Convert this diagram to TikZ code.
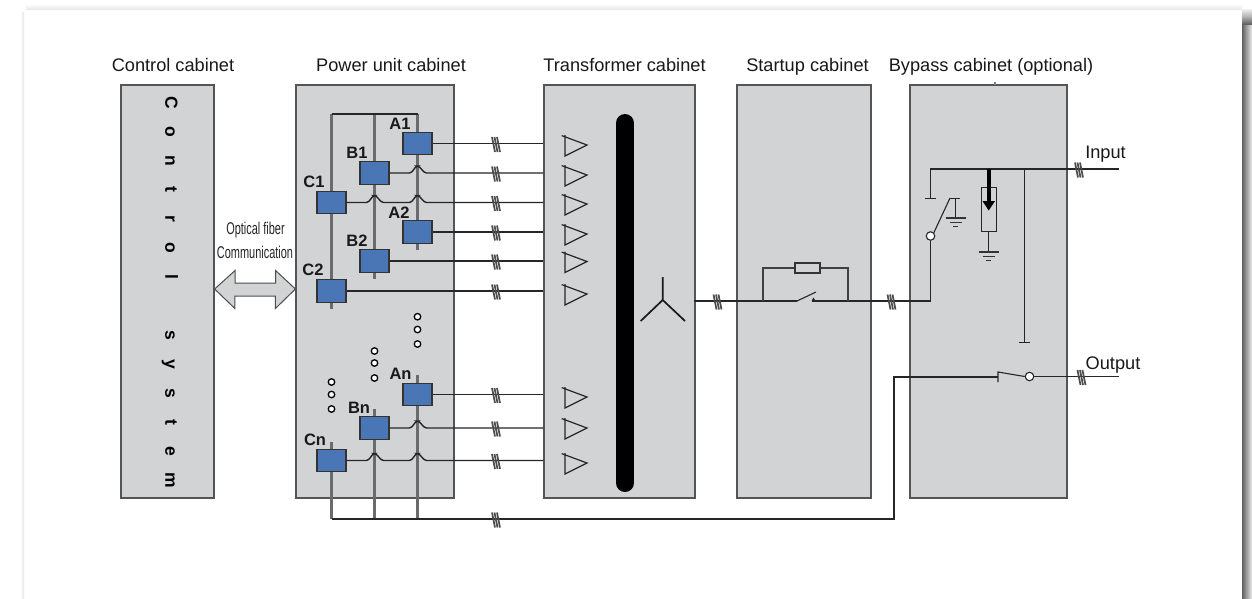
\documentclass[tikz,border=0pt]{standalone}
\usepackage{fontspec}
\setmainfont{Liberation Sans}
\usetikzlibrary{calc,shadings}
\definecolor{cab}{HTML}{D1D3D4}
\definecolor{cabline}{HTML}{555555}
\definecolor{unitblue}{HTML}{4A76B6}
\tikzset{
 cabinet/.style={draw=cabline,fill=cab,line width=1.2pt,inner sep=0pt},
 unitbox/.style={draw=black!80,fill=unitblue,line width=1.2pt,minimum width=29pt,minimum height=22.5pt,inner sep=0pt},
 title/.style={font=\fontsize{18.2}{20}\selectfont,inner sep=0pt,text=black!90,anchor=base},
 unitlabel/.style={font=\fontsize{16.5}{18}\bfseries\selectfont,inner sep=0pt,text=black!90},
 wire/.style={line width=1.4pt,black!85},
 bus/.style={line width=2.2pt,black!58},
 thin wire/.style={line width=1.1pt,black!85},
 dotmark/.style={circle,draw=black,fill=white,line width=1.3pt,minimum size=6.5pt,inner sep=0pt},
}
\newcommand{\slashmark}[2]{%
 \foreach \o in {-2.5,0,2.5}{\draw[line width=1.7pt,black!70] (#1+\o-1.5,#2-6.5) -- (#1+\o+1.5,#2+8.5);}}
\newcommand{\trimark}[2]{%
 \draw[line width=1.2pt,black!85] (#1-3.3,#2-9.4) -- (#1+22,#2) -- (#1,#2+11) -- (#1,#2-10);}
\newcommand{\groundmark}[2]{%
 \draw[line width=1.1pt,black!80] (#1-10,#2) -- (#1+10,#2) (#1-6,#2+4.5) -- (#1+6,#2+4.5) (#1-2.5,#2+8.5) -- (#1+2.5,#2+8.5);}
\newcommand{\vletter}[1]{\makebox[29.05pt]{#1}}
\begin{document}
\begin{tikzpicture}[x=1pt,y=-1pt]
\useasboundingbox (0,0) rectangle (1252,598);
% page shadow
\fill[white] (0,0) rectangle (1252,598);
\shade[left color=white,right color=black!10] (20,12) rectangle (24,598);
\shade[top color=white,bottom color=black!9] (26,4) rectangle (1242,9);
\shade[left color=black!62,right color=black!8] (1242,24) rectangle (1252,598);
\shade[top color=black!6,bottom color=black!62,middle color=black!30] (1242,9) rectangle (1252,24);
% cabinets
\node[cabinet,minimum width=93pt,minimum height=413pt] (ctrl) at (167.5,291.5) {};
\node[cabinet,minimum width=158pt,minimum height=413pt] (P) at (375,291.5) {};
\node[cabinet,minimum width=151pt,minimum height=413pt] (T) at (619.5,291.5) {};
\node[cabinet,minimum width=134pt,minimum height=413pt] (S) at (804,291.5) {};
\node[cabinet,minimum width=157pt,minimum height=413pt] (Y) at (988.5,291.5) {};
% titles
\node[title] (t1) at (173,71.5) {Control cabinet};
\node[title] (t2) at (391,71.5) {Power unit cabinet};
\node[title] (t3) at (624.5,71.5) {Transformer cabinet};
\node[title] (t4) at (807.5,71.5) {Startup cabinet};
\node[title] (t5) at (991,71.5) {Bypass cabinet (optional)};
% vertical text
\node[rotate=-90,inner sep=0pt,font=\fontsize{17.5}{19}\bfseries\selectfont] (ctxt) at (170,291.5)
 {\vletter{C}\vletter{o}\vletter{n}\vletter{t}\vletter{r}\vletter{o}\vletter{l}\vletter{ }\vletter{s}\vletter{y}\vletter{s}\vletter{t}\vletter{e}\vletter{m}};
% fibre arrow
\node[font=\fontsize{17}{19}\selectfont,inner sep=0pt,text=black!85] (f1) at (255.5,230) {\scalebox{0.645}[1]{Optical fiber}};
\node[font=\fontsize{17}{19}\selectfont,inner sep=0pt,text=black!85] (f2) at (255,252) {\scalebox{0.645}[1]{Communication}};
\coordinate (fl) at (ctrl.east |- 0,289);
\coordinate (fr) at (P.west |- 0,289);
\draw[fill=cab,draw=black!70,line width=1pt] (fl) -- ++(20.5,-18.5) -- ++(0,12.5) -- ++(40.5,0) -- ++(0,-12.5) -- (fr) -- ++(-20,19.5) -- ++(0,-12.5) -- ++(-40.5,0) -- ++(0,12.5) -- cycle;
% units
\node[unitbox] (A1) at (417.5,143.5) {};
\node[unitbox] (B1) at (374.5,173) {};
\node[unitbox] (C1) at (331.5,202.5) {};
\node[unitbox] (A2) at (417.5,232) {};
\node[unitbox] (B2) at (374.5,261) {};
\node[unitbox] (C2) at (331.5,291) {};
\node[unitbox] (An) at (417.5,394.5) {};
\node[unitbox] (Bn) at (374.5,428) {};
\node[unitbox] (Cn) at (331.5,460.5) {};
\node[unitlabel] (lA1) at (400,124) {A1};
\node[unitlabel] (lB1) at (357,153) {B1};
\node[unitlabel] (lC1) at (314,182) {C1};
\node[unitlabel] (lA2) at (399,212.5) {A2};
\node[unitlabel] (lB2) at (357,241) {B2};
\node[unitlabel] (lC2) at (313,270) {C2};
\node[unitlabel] (lAn) at (400.5,374) {An};
\node[unitlabel] (lBn) at (359,408) {Bn};
\node[unitlabel] (lCn) at (315,440) {Cn};
% buses
\coordinate (btA) at (417.5,114);
\coordinate (btB) at (374.5,114);
\coordinate (btC) at (331.5,114);
\coordinate (sA) at (417.5,250);
\coordinate (sB) at (374.5,279);
\coordinate (sC) at (331.5,309);
\coordinate (uA) at (417.5,375);
\coordinate (uB) at (374.5,409);
\coordinate (uC) at (331.5,442);
\coordinate (bA) at (417.5,519);
\coordinate (bB) at (374.5,519);
\coordinate (bC) at (331.5,519);
\draw[bus] (C1.north) -- (btC);
\draw[bus] (B1.north) -- (btB);
\draw[bus] (A1.north) -- (btA);
\draw[wire] (btC) -- (btA);
\draw[bus] (A1.south) -- (A2.north) (A2.south) -- (sA);
\draw[bus] (B1.south) -- (B2.north) (B2.south) -- (sB);
\draw[bus] (C1.south) -- (C2.north) (C2.south) -- (sC);
\draw[bus] (uA) -- (An.north) (An.south) -- (bA);
\draw[bus] (uB) -- (Bn.north) (Bn.south) -- (bB);
\draw[bus] (uC) -- (Cn.north) (Cn.south) -- (bC);
% phase lines
\draw[wire] (A1.east) -- (A1.east -| T.west);
\draw[wire,rounded corners=1.5pt] (B1.east) -- (411,173) -- (416.5,166) -- (418.5,166) -- (425,173) -- (B1.east -| T.west);
\draw[wire,rounded corners=1.5pt] (C1.east) -- (368,202.5) -- (373.5,195.5) -- (375.5,195.5) -- (382,202.5) -- (411,202.5) -- (416.5,195.5) -- (418.5,195.5) -- (425,202.5) -- (C1.east -| T.west);
\draw[wire] (A2.east) -- (A2.east -| T.west);
\draw[wire] (B2.east) -- (B2.east -| T.west);
\draw[wire] (C2.east) -- (C2.east -| T.west);
\draw[wire] (An.east) -- (An.east -| T.west);
\draw[wire,rounded corners=1.5pt] (Bn.east) -- (411,428) -- (416.5,421) -- (418.5,421) -- (425,428) -- (Bn.east -| T.west);
\draw[wire,rounded corners=1.5pt] (Cn.east) -- (368,460.5) -- (373.5,453.5) -- (375.5,453.5) -- (382,460.5) -- (411,460.5) -- (416.5,453.5) -- (418.5,453.5) -- (425,460.5) -- (Cn.east -| T.west);
\foreach \y in {143.5,173,202.5,232,261,291,394.5,428,460.5}{\slashmark{496}{\y}}
\foreach \y in {145,175,204,234,261.5,294,397,428,463}{\trimark{565}{\y}}
% common output line
\coordinate (outbend) at (894,519);
\coordinate (outtop) at (894,377);
\coordinate (swL) at (998,377);
\draw[wire] (bC) -- (outbend) -- (outtop) -- (swL);
\slashmark{496}{519}
% dots
\foreach \x/\y [count=\i] in {417.5/316.7,417.5/329.5,417.5/344,374.5/351,374.5/363,374.5/378,331.5/382,331.5/394.5,331.5/409}{\node[dotmark] (d\i) at (\x,\y) {};}
% transformer bar and star
\draw[line width=18pt,line cap=round,black] (625,123) -- (625,483);
\coordinate (star) at (662.7,300);
\draw[line width=1.7pt,black!90] (662.7,277) -- (star) (640.7,321) -- (star) -- (685,321);
% startup
\coordinate (lnA) at (694,301);
\coordinate (swA) at (797,301);
\coordinate (swB) at (812,301);
\coordinate (j1) at (763,301);
\coordinate (j2) at (848,301);
\coordinate (j3) at (930.5,301);
\node[draw=black!80,fill=cab,line width=1.1pt,minimum width=25pt,minimum height=10pt,inner sep=0pt] (rs) at (807.5,268) {};
\draw[wire] (lnA) -- (swA) (swB) -- (j3);
\draw[thin wire] (swA) -- (816,292);
\fill[black!85] (811.5,301) -- (813.5,297.5) -- (815.5,301) -- cycle;
\draw[line width=1.3pt,black!75] (j1) |- (rs.west) (rs.east) -| (j2);
\slashmark{717.5}{301}
\slashmark{891.5}{301}
% bypass
\node[circle,draw=black!85,fill=white,line width=1.1pt,minimum size=8.5pt,inner sep=0pt] (cIn) at (930.5,236) {};
\draw[wire] (j3) -- (cIn.south);
\draw[thin wire] (cIn.north east) -- (950,198);
\coordinate (inL) at (930.5,169);
\coordinate (inR) at (1119,169);
\coordinate (inT) at (930.5,198);
\draw[wire] (inT) -- (inL) -- (inR);
\draw[thin wire] (925,198.5) -- (936,198.5);
\draw[thin wire] (950,198.5) -- (960,198.5) (955.5,198.5) -- (955.5,218);
\groundmark{955.5}{218}
\node[draw=black!85,fill=cab,line width=1.1pt,minimum width=15pt,minimum height=43.5pt,inner sep=0pt] (rb) at (988.7,209.5) {};
\coordinate (gb) at (988.7,252);
\draw[thin wire] (rb.south) -- (gb);
\groundmark{988.7}{252}
\draw[line width=3.6pt,black] (988.7,169) -- (988.7,202);
\fill[black] (982.5,201) -- (995,201) -- (988.7,210.5) -- cycle;
\coordinate (bpT) at (1024.5,342.5);
\draw[thin wire] (1024.5,169) -- (bpT);
\draw[thin wire] (1018.5,342.5) -- (1029.5,342.5);
\node[circle,draw=black!85,fill=white,line width=1.1pt,minimum size=8.5pt,inner sep=0pt] (cOut) at (1029.5,376.5) {};
\coordinate (outR) at (1119,376.5);
\draw[wire] (cOut.east) -- (outR);
\draw[thin wire] (998,382) -- (998,372) -- (cOut.west);
\slashmark{1079}{169}
\slashmark{1081.5}{376.5}
\draw[thin wire,black!50] (995,82) -- (995,85);
\node[title] (tIn) at (1105.5,158.5) {Input};
\node[title] (tOut) at (1113,369.5) {Output};
\end{tikzpicture}
\end{document}
